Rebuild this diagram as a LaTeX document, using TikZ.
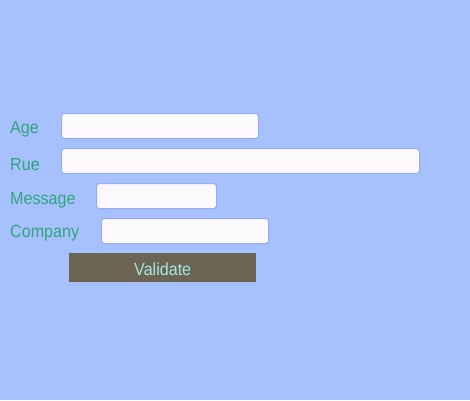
\documentclass[tikz,border=0pt]{standalone}
\usepackage{fontspec}
\setmainfont[FakeStretch=0.92]{Liberation Sans}
\usetikzlibrary{positioning}
\definecolor{bgblue}{HTML}{A6C1FE}
\definecolor{lblgreen}{HTML}{2FA57A}
\definecolor{boxfill}{HTML}{FCF9FC}
\definecolor{boxline}{HTML}{98ADE6}
\definecolor{btnbrown}{HTML}{6C6453}
\definecolor{btntext}{HTML}{A6E6E2}
\tikzset{
	frm_lbl/.style = {anchor=base west, inner sep=0pt, text=lblgreen,
		font=\fontsize{17.5}{21}\selectfont},% libelle du champ
	frm_box/.style = {anchor=north west, rectangle, rounded corners=3pt,
		draw=boxline, fill=boxfill, line width=1pt, inner sep=0pt,
		minimum height=25pt},% zone de saisie
	frm_btn/.style = {anchor=north west, rectangle, draw=none, fill=btnbrown,
		inner sep=0pt, minimum width=187pt, minimum height=29pt},% bouton
	frm_btntxt/.style = {anchor=base, inner sep=0pt, text=btntext,
		font=\fontsize{17.5}{21}\selectfont}% texte du bouton
}
\begin{document}
\begin{tikzpicture}[x=1pt,y=-1pt]
	\fill[bgblue] (0,0) rectangle (470,400);
	\useasboundingbox (0,0) rectangle (470,400);
	% libelles
	\node[frm_lbl] (lbl_age) at (10,133) {Age};
	\node[frm_lbl] (lbl_rue) at (10,170) {Rue};
	\node[frm_lbl] (lbl_message) at (10,204) {Message};
	\node[frm_lbl] (lbl_company) at (10,237) {Company};
	% champs
	\node[frm_box, minimum width=197pt] (box_age) at (61,113) {};
	\node[frm_box, minimum width=358pt] (box_rue) at (61,148) {};
	\node[frm_box, minimum width=120pt] (box_message) at (96,183) {};
	\node[frm_box, minimum width=167pt] (box_company) at (101,218) {};
	% bouton
	\node[frm_btn] (btn_validate) at (69,252.5) {};
	\node[frm_btntxt] (txt_validate) at ([yshift=-8.5pt]btn_validate.center) {Validate};
\end{tikzpicture}
\end{document}
